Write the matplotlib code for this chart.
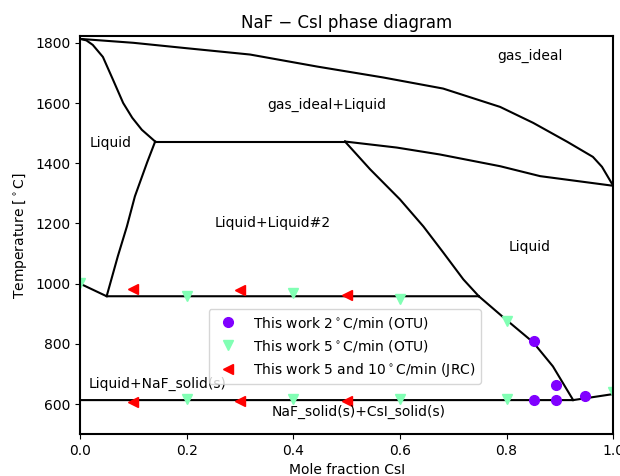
import numpy as np
import matplotlib
matplotlib.use("Agg")
import matplotlib.pyplot as plt

# phase boundaries
dew_x = [0.0, 0.1, 0.2, 0.319, 0.445, 0.568, 0.681, 0.788, 0.85, 0.914, 0.962, 0.979, 1.0]
dew_y = [1813, 1800, 1782, 1761, 1721, 1685, 1648, 1587, 1534, 1471, 1421, 1388, 1325]
bub_x = [0.497, 0.594, 0.675, 0.788, 0.863, 1.0]
bub_y = [1472, 1452, 1429, 1390, 1357, 1325]
liqg_x = [0.0, 0.012, 0.024, 0.043, 0.062, 0.081, 0.098, 0.116, 0.141]
liqg_y = [1813, 1808, 1793, 1753, 1677, 1600, 1551, 1511, 1472]
gapl_x = [0.141, 0.126, 0.103, 0.088, 0.071, 0.05]
gapl_y = [1472, 1403, 1290, 1190, 1091, 958]
gapr_x = [0.497, 0.544, 0.6, 0.644, 0.681, 0.719, 0.748]
gapr_y = [1472, 1380, 1280, 1190, 1104, 1014, 958]
top_x = [0.141, 0.497]
top_y = [1472, 1472]
mono_x = [0.0, 0.05, 0.748]
mono_y = [1000, 958, 958]
liqr_x = [0.748, 0.794, 0.85, 0.887, 0.925]
liqr_y = [958, 888, 805, 725, 613]
eut_x = [0.0, 0.925, 1.0]
eut_y = [613, 613, 633]

# experimental points
otu2_x = [0.852, 0.893, 0.852, 0.893, 0.948]
otu2_y = [808, 664, 613, 613, 627]
otu5_x = [0.0, 0.2, 0.4, 0.6, 0.8, 0.2, 0.4, 0.6, 0.8, 1.0]
otu5_y = [1002, 958, 968, 948, 875, 617, 617, 615, 615, 640]
jrc_x = [0.1, 0.3, 0.5, 0.1, 0.3, 0.5]
jrc_y = [981, 979, 963, 608, 611, 609]

labels = ["This work 2$^\\circ$C/min (OTU)",
          "This work 5$^\\circ$C/min (OTU)",
          "This work 5 and 10$^\\circ$C/min (JRC)"]

cols = plt.cm.rainbow(np.linspace(0, 1, 3))

fig = plt.figure(figsize=(6.2, 4.76), dpi=100)
ax = fig.add_axes([0.129, 0.088, 0.860, 0.836])

for xs, ys in [(dew_x, dew_y), (bub_x, bub_y), (liqg_x, liqg_y), (gapl_x, gapl_y),
               (gapr_x, gapr_y), (top_x, top_y), (mono_x, mono_y),
               (liqr_x, liqr_y), (eut_x, eut_y)]:
    ax.plot(xs, ys, 'k-', lw=1.5)

ax.plot(otu2_x, otu2_y, 'o', color=cols[0], ms=7, ls='none', label=labels[0])
ax.plot(otu5_x, otu5_y, 'v', color=cols[1], ms=7, ls='none', label=labels[1])
ax.plot(jrc_x, jrc_y, '<', color=cols[2], ms=7, ls='none', label=labels[2])

ax.text(0.844, 1758, "gas_ideal", ha='center', va='center')
ax.text(0.463, 1595, "gas_ideal+Liquid", ha='center', va='center')
ax.text(0.058, 1468, "Liquid", ha='center', va='center')
ax.text(0.362, 1202, "Liquid+Liquid#2", ha='center', va='center')
ax.text(0.844, 1120, "Liquid", ha='center', va='center')
ax.text(0.146, 668, "Liquid+NaF_solid(s)", ha='center', va='center')
ax.text(0.522, 575, "NaF_solid(s)+CsI_solid(s)", ha='center', va='center')

ax.set_xlim(0, 1)
ax.set_ylim(500, 1822)
ax.set_xlabel("Mole fraction CsI")
ax.set_ylabel("Temperature [$^\\circ$C]")
ax.set_title("NaF \u2212 CsI phase diagram")
for s in ax.spines.values():
    s.set_linewidth(1.5)
ax.legend(loc='center', bbox_to_anchor=(0.497, 0.22))

fig.savefig("out.png", dpi=100)
